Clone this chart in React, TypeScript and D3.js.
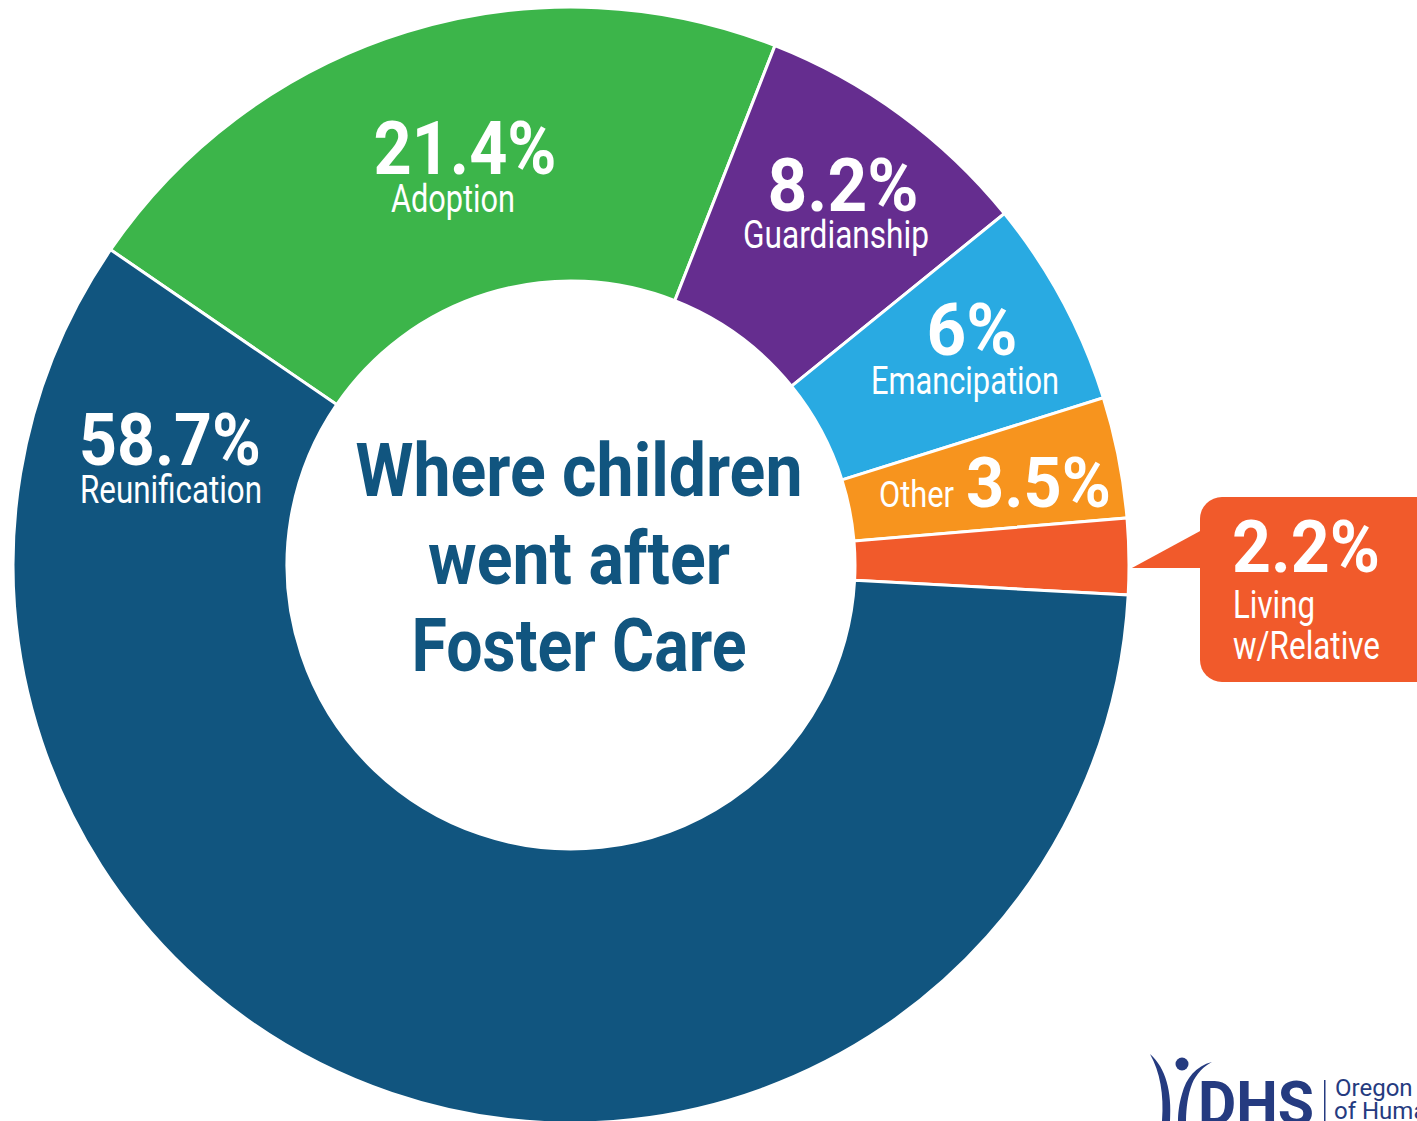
import React from 'react';
import * as d3 from 'd3';

// outcome categories, in drawing order starting at the top-left boundary
const categories = ['Adoption', 'Guardianship', 'Emancipation', 'Other', 'Living w/Relative', 'Reunification'];
const shares = [21.4, 8.2, 6, 3.5, 2.2, 58.7];
const pctLabels = ['21.4%', '8.2%', '6%', '3.5%', '2.2%', '58.7%'];
const colors = ['#3cb54a', '#652d8f', '#29aae2', '#f7941e', '#f15a2b', '#11557f'];
const titleLines = ['Where children', 'went after', 'Foster Care'];

const W = 1417;
const H = 1121;
const cx = 571;
const cy = 565;
const outerR = 558;
const innerR = 284;
const startDeg = -55.6;

const FONT = '"Liberation Sans Narrow", Roboto, "DejaVu Sans Condensed", sans-serif';
const WHITE = '#ffffff';
const NAVY = '#253b80';

type Txt = {
    text: string;
    x: number;
    y: number;
    w: number;
    size: number;
    bold?: boolean;
    anchor?: 'start' | 'middle';
};

// label placement (hand placed in the original, kept apart from the data)
const labelLayout: Record<string, Txt[]> = {
    Reunification: [
        { text: pctLabels[5], x: 170, y: 465, w: 182, size: 72, bold: true },
        { text: 'Reunification', x: 171, y: 503, w: 182, size: 38 },
    ],
    Adoption: [
        { text: pctLabels[0], x: 465, y: 174, w: 183, size: 74, bold: true },
        { text: 'Adoption', x: 453, y: 212, w: 124, size: 38 },
    ],
    Guardianship: [
        { text: pctLabels[1], x: 843, y: 211, w: 151, size: 74, bold: true },
        { text: 'Guardianship', x: 836, y: 248, w: 186, size: 38 },
    ],
    Emancipation: [
        { text: pctLabels[2], x: 972, y: 355, w: 91, size: 72, bold: true },
        { text: 'Emancipation', x: 965, y: 394, w: 188, size: 38 },
    ],
    Other: [
        { text: 'Other', x: 879, y: 507, w: 75, size: 36, anchor: 'start' },
        { text: pctLabels[3], x: 966, y: 507, w: 145, size: 70, bold: true, anchor: 'start' },
    ],
    'Living w/Relative': [
        { text: pctLabels[4], x: 1232, y: 572, w: 148, size: 72, bold: true, anchor: 'start' },
        { text: 'Living', x: 1233, y: 618, w: 82, size: 38, anchor: 'start' },
        { text: 'w/Relative', x: 1233, y: 659, w: 147, size: 38, anchor: 'start' },
    ],
};

const Label: React.FC<{ t: Txt; fill: string }> = ({ t, fill }) => (
    <text
        x={t.x}
        y={t.y}
        textAnchor={t.anchor || 'middle'}
        fontFamily={FONT}
        fontSize={t.size}
        fontWeight={t.bold ? 700 : 400}
        fill={fill}
        textLength={t.w}
        lengthAdjust="spacingAndGlyphs"
    >
        {t.text}
    </text>
);

const App: React.FC = () => {
    const start = (startDeg * Math.PI) / 180;
    const pie = d3
        .pie<number>()
        .sort(null)
        .value((d) => d)
        .startAngle(start)
        .endAngle(start + 2 * Math.PI);
    const arcs = pie(shares);
    const arc = d3.arc<d3.PieArcDatum<number>>().innerRadius(innerR).outerRadius(outerR);

    // callout box for the small slice
    const box = { x: 1200, y: 497, w: 240, h: 185, r: 22 };
    const livingArc = arcs[4];
    const mid = (livingArc.startAngle + livingArc.endAngle) / 2;
    const tipX = cx + Math.sin(mid) * (outerR + 3);
    const tipY = 568;

    return (
        <svg
            width={W}
            height={H}
            viewBox={`0 0 ${W} ${H}`}
            style={{ position: 'absolute', left: 0, top: 0, background: '#fff' }}
        >
            <rect width={W} height={H} fill="#fff" />
            <g transform={`translate(${cx},${cy})`}>
                {arcs.map((a, i) => (
                    <path key={categories[i]} d={arc(a) || ''} fill={colors[i]} stroke="#fff" strokeWidth={3} />
                ))}
            </g>

            {/* callout */}
            <rect x={box.x} y={box.y} width={box.w} height={box.h} rx={box.r} fill={colors[4]} />
            <path d={`M${box.x + 2},530 L${tipX},${tipY} L${box.x + 2},${tipY} Z`} fill={colors[4]} />

            {categories.map((c) =>
                (labelLayout[c] || []).map((t) => <Label key={c + t.text} t={t} fill={WHITE} />)
            )}

            {titleLines.map((line, i) => (
                <text
                    key={line}
                    x={579}
                    y={496 + i * 87.5}
                    textAnchor="middle"
                    fontFamily={FONT}
                    fontSize={75}
                    fontWeight={700}
                    fill={colors[5]}
                    textLength={[447, 302, 335][i]}
                    lengthAdjust="spacingAndGlyphs"
                >
                    {line}
                </text>
            ))}

            {/* DHS logo, cut off at the bottom-right corner */}
            <g fill={NAVY}>
                <circle cx={1182} cy={1064} r={6.5} />
                <path d="M1150,1054 C1166,1068 1172,1092 1170,1121 L1162,1121 C1164,1094 1160,1072 1150,1054 Z" />
                <path d="M1212,1062 C1196,1066 1186,1078 1182,1094 C1179,1104 1178,1114 1178,1121 L1186,1121 C1186,1108 1188,1094 1192,1084 C1196,1074 1204,1066 1212,1062 Z" />
                <text x={1198} y={1125} fontFamily={FONT} fontSize={62} fontWeight={700} textLength={116} lengthAdjust="spacingAndGlyphs">
                    DHS
                </text>
                <rect x={1324} y={1080} width={1.5} height={41} />
                <text x={1335} y={1096} fontFamily={FONT} fontSize={24}>
                    Oregon
                </text>
                <text x={1334} y={1119} fontFamily={FONT} fontSize={24}>
                    of Human Services
                </text>
            </g>
        </svg>
    );
};

export default App;
